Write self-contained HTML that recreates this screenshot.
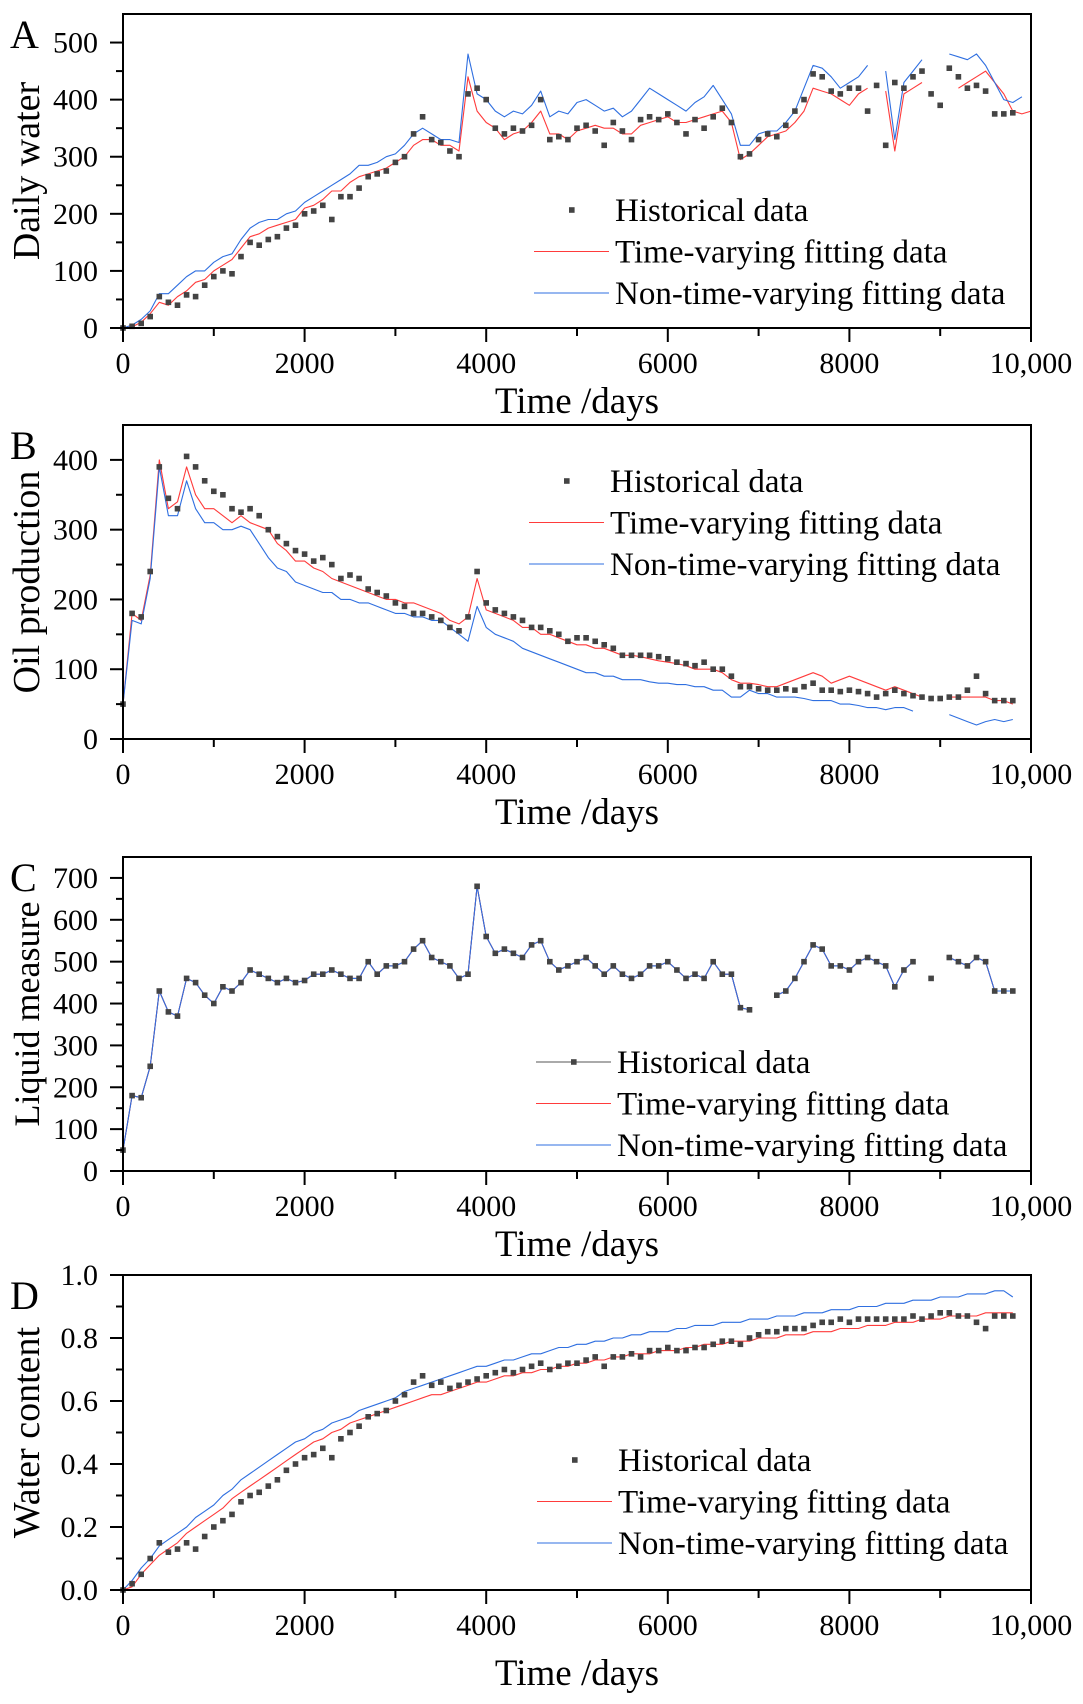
<!DOCTYPE html>
<html><head><meta charset="utf-8">
<style>
html,body{margin:0;padding:0;background:#fff;}
svg{display:block;}
text{font-family:"Liberation Serif",serif;fill:#000;}
</style></head>
<body>
<svg id="fig" width="1083" height="1704" viewBox="0 0 1083 1704" xmlns="http://www.w3.org/2000/svg"></svg>
<script>
// ---- data (days step 100) ----
const daysStep = 100;
const xTicks = [0, 2000, 4000, 6000, 8000, 10000];
const xTickLabels = ["0", "2000", "4000", "6000", "8000", "10,000"];

const waterHist = [0,3,8,20,55,45,40,58,55,75,90,100,95,125,150,145,155,160,175,180,200,205,215,190,230,230,245,265,270,275,290,300,340,370,330,325,310,300,410,420,400,350,340,350,345,355,400,330,335,330,350,355,345,320,360,345,330,365,370,365,375,360,340,365,350,370,385,360,300,305,330,340,335,355,380,400,445,440,415,410,420,420,380,425,320,430,420,440,450,410,390,455,440,420,425,415,375,375,377];
const waterRed = [0,2,10,25,45,40,55,65,80,85,100,110,120,140,160,165,175,180,185,190,210,215,225,240,240,255,265,270,275,280,290,300,320,330,330,320,320,310,440,380,360,350,330,340,345,360,380,340,340,330,345,350,355,350,350,340,340,355,360,365,370,360,360,365,370,375,380,360,295,305,320,335,340,345,360,380,420,415,410,400,390,410,420,null,415,310,410,420,430,null,null,null,420,430,440,450,430,410,380,375,380];
const waterBlue = [0,5,15,30,60,60,75,90,100,100,115,125,130,155,175,185,190,190,200,205,220,230,240,250,260,270,285,285,290,300,305,320,340,350,340,330,330,325,480,410,400,380,370,380,375,390,415,370,380,375,395,400,390,380,385,370,380,400,420,410,400,390,380,395,405,425,400,375,320,320,340,345,345,360,380,420,460,455,440,420,430,440,460,null,450,330,430,450,470,null,null,480,475,470,480,460,430,400,395,405];

const oilHist = [50,180,175,240,390,345,330,405,390,370,355,350,330,325,330,320,300,290,280,270,265,255,260,250,230,235,230,215,210,205,195,190,180,180,175,170,160,155,175,240,195,185,180,175,170,160,160,155,150,140,145,145,140,135,130,120,120,120,120,118,115,110,108,105,110,100,100,90,75,75,72,70,70,72,70,75,80,70,70,68,70,68,65,60,65,70,65,62,60,58,58,60,60,70,90,65,55,55,55];
const oilRed = [50,180,170,235,400,330,340,390,350,330,330,320,310,320,310,305,300,280,270,255,255,245,240,230,225,220,215,210,205,200,200,195,195,190,185,180,170,165,175,230,185,180,175,170,160,160,150,150,145,140,135,135,130,130,125,120,120,118,115,112,110,108,105,100,100,100,95,85,80,80,78,75,75,80,85,90,95,90,80,85,90,85,80,75,70,75,70,65,60,null,null,60,60,60,60,60,55,55,50];
const oilBlue = [50,170,165,230,390,320,320,370,330,310,310,300,300,305,300,280,260,245,240,225,220,215,210,210,200,200,195,195,190,185,180,180,175,175,170,170,160,150,140,190,160,150,145,140,130,125,120,115,110,105,100,95,95,90,90,85,85,85,82,80,80,78,78,75,75,70,70,60,60,70,65,65,60,60,60,58,55,55,55,50,50,48,45,45,42,45,45,40,null,null,null,35,30,25,20,25,28,25,28];

const liquidHist = [50,180,175,250,430,380,370,460,450,420,400,440,430,450,480,470,460,450,460,450,455,470,470,480,470,460,460,500,470,490,490,500,530,550,510,500,490,460,470,680,560,520,530,520,510,540,550,500,480,490,500,510,490,470,490,470,460,470,490,490,500,480,460,470,460,500,470,470,390,385,null,null,420,430,460,500,540,530,490,490,480,500,510,500,490,440,480,500,null,460,null,510,500,490,510,500,430,430,430];
const liquidRed = liquidHist;
const liquidBlue = liquidHist;

const wcHist = [0,0.02,0.05,0.1,0.15,0.12,0.13,0.15,0.13,0.17,0.2,0.22,0.24,0.28,0.3,0.31,0.33,0.35,0.38,0.4,0.42,0.43,0.45,0.42,0.48,0.5,0.52,0.55,0.56,0.57,0.6,0.62,0.66,0.68,0.65,0.66,0.64,0.65,0.66,0.67,0.68,0.69,0.7,0.69,0.7,0.71,0.72,0.7,0.71,0.72,0.72,0.73,0.74,0.71,0.74,0.74,0.75,0.74,0.76,0.76,0.77,0.76,0.76,0.77,0.77,0.78,0.79,0.79,0.78,0.8,0.81,0.82,0.82,0.83,0.83,0.83,0.84,0.85,0.85,0.86,0.85,0.86,0.86,0.86,0.86,0.86,0.86,0.87,0.86,0.87,0.88,0.88,0.87,0.87,0.85,0.83,0.87,0.87,0.87];
const wcRed = [0,0.01,0.05,0.08,0.11,0.13,0.15,0.18,0.2,0.22,0.24,0.26,0.29,0.31,0.33,0.35,0.37,0.39,0.41,0.43,0.45,0.47,0.48,0.5,0.51,0.53,0.54,0.55,0.56,0.57,0.58,0.59,0.6,0.61,0.62,0.62,0.63,0.64,0.65,0.66,0.66,0.67,0.68,0.68,0.69,0.69,0.7,0.7,0.71,0.71,0.72,0.72,0.73,0.73,0.74,0.74,0.75,0.75,0.75,0.76,0.76,0.76,0.77,0.77,0.78,0.78,0.78,0.79,0.79,0.79,0.8,0.8,0.8,0.81,0.81,0.81,0.82,0.82,0.82,0.83,0.83,0.83,0.84,0.84,0.84,0.85,0.85,0.85,0.86,0.86,0.86,0.87,0.87,0.87,0.87,0.88,0.88,0.88,0.88];
const wcBlue = [0,0.03,0.07,0.1,0.14,0.16,0.18,0.2,0.23,0.25,0.27,0.3,0.32,0.35,0.37,0.39,0.41,0.43,0.45,0.47,0.48,0.5,0.51,0.53,0.54,0.55,0.57,0.58,0.59,0.6,0.61,0.63,0.64,0.65,0.66,0.67,0.68,0.69,0.7,0.71,0.71,0.72,0.73,0.73,0.74,0.75,0.75,0.76,0.77,0.77,0.78,0.78,0.79,0.79,0.8,0.8,0.81,0.81,0.82,0.82,0.82,0.83,0.83,0.84,0.84,0.84,0.85,0.85,0.85,0.86,0.86,0.86,0.87,0.87,0.87,0.88,0.88,0.88,0.89,0.89,0.89,0.9,0.9,0.9,0.91,0.91,0.91,0.92,0.92,0.92,0.93,0.93,0.93,0.94,0.94,0.94,0.95,0.95,0.93];

const aTicks = [0,100,200,300,400,500];
const bTicks = [0,100,200,300,400];
const cTicks = [0,100,200,300,400,500,600,700];
const dTicks = [0,0.2,0.4,0.6,0.8,1.0];

const NS = "http://www.w3.org/2000/svg";
const svg = document.getElementById('fig');
function mk(tag, attrs, parent) {
  const e = document.createElementNS(NS, tag);
  for (const k in attrs) e.setAttribute(k, attrs[k]);
  (parent || svg).appendChild(e);
  return e;
}
const L = 123, R = 1031, XMAX = 10000;
function xScale(d) { return L + (d / XMAX) * (R - L); }

function panel(p) {
  const g = mk('g', {});
  
  
  const yScale = v => p.bottom - (v / p.ymax) * (p.bottom - p.top);
  function line(arr, color, name, w) {
    let d = '', pen = false;
    arr.forEach((v, i) => {
      if (v === null) { pen = false; return; }
      const x = xScale(i * daysStep), y = yScale(v);
      d += (pen ? 'L' : 'M') + x.toFixed(1) + ' ' + y.toFixed(1);
      pen = true;
    });
    const pth = mk('path', {d: d, fill: 'none', stroke: color, 'stroke-width': w || 1.1, 'stroke-linejoin': 'round'}, g);
    
    
  }
  if (p.histLine) line(p.hist, '#555', p.id + '-historical-line', 1);
  line(p.red, '#ff3b3b', p.id + '-time-varying-line');
  line(p.blue, '#2f6fe0', p.id + '-non-time-varying-line');
  const mg = mk('g', {fill: '#444'}, g);
  
  
  p.hist.forEach((v, i) => {
    if (v === null) return;
    const r = mk('rect', {x: (xScale(i * daysStep) - 2.8).toFixed(1), y: (yScale(v) - 2.8).toFixed(1), width: 5.6, height: 5.6}, mg);
    
    
  });
  const fr = mk('rect', {x: L, y: p.top, width: R - L, height: p.bottom - p.top, fill: 'none', stroke: '#000', 'stroke-width': 2}, g);
  
  
  p.ticks.forEach(t => {
    const y = yScale(t);
    mk('line', {x1: L - 13, x2: L, y1: y, y2: y, stroke: '#000', 'stroke-width': 2}, g);
    const tx = mk('text', {x: L - 25, y: y + 10, 'font-size': 30, 'text-anchor': 'end'}, g);
    tx.textContent = p.fmt(t);
    
    
  });
  for (let m = p.minor; m < p.ymax; m += p.minor * 2) {
    const y = yScale(m);
    mk('line', {x1: L - 7, x2: L, y1: y, y2: y, stroke: '#000', 'stroke-width': 2}, g);
  }
  xTicks.forEach((t, i) => {
    const x = xScale(t);
    mk('line', {x1: x, x2: x, y1: p.bottom, y2: p.bottom + 14, stroke: '#000', 'stroke-width': 2}, g);
    const tx = mk('text', {x: x, y: p.bottom + 45, 'font-size': 30, 'text-anchor': 'middle'}, g);
    tx.textContent = xTickLabels[i];
    
    
  });
  for (let m = 1000; m < XMAX; m += 2000) {
    const x = xScale(m);
    mk('line', {x1: x, x2: x, y1: p.bottom, y2: p.bottom + 8, stroke: '#000', 'stroke-width': 2}, g);
  }
  const xt = mk('text', {x: (L + R) / 2, y: p.bottom + p.titleOff, 'font-size': 37, 'text-anchor': 'middle'}, g);
  xt.textContent = 'Time /days';
  
  
  const cy = (p.top + p.bottom) / 2;
  const yt = mk('text', {x: 39, y: cy, 'font-size': p.ytSize, 'text-anchor': 'middle', transform: 'rotate(-90 39 ' + cy + ')'}, g);
  yt.textContent = p.ytitle;
  
  
  const lt = mk('text', {x: 10, y: p.top + 34, 'font-size': 40}, g);
  lt.textContent = p.letter;
  
  
  const lg = mk('g', {}, g);
  
  
  const names = ['Historical data', 'Time-varying fitting data', 'Non-time-varying fitting data'];
  const cols = ['#555', '#ff3b3b', '#2f6fe0'];
  names.forEach((n, i) => {
    const y = p.legY + i * 41.5;
    if (i > 0 || p.histLine) mk('line', {x1: p.legX, x2: p.legX + 75, y1: y, y2: y, stroke: cols[i], 'stroke-width': 1.1}, lg);
    if (i === 0) mk('rect', {x: p.legX + 35, y: y - 2.8, width: 5.6, height: 5.6, fill: '#444'}, lg);
    const t = mk('text', {x: p.legX + 81, y: y + 11, 'font-size': 33}, lg);
    t.textContent = n;
    
    
  });
}

panel({id: 'daily-water', letter: 'A', ytitle: 'Daily water', top: 14, bottom: 328, ymax: 550, ticks: aTicks, minor: 50,
  hist: waterHist, red: waterRed, blue: waterBlue, fmt: v => String(v), legX: 534, legY: 210, titleOff: 85, ytSize: 38});
panel({id: 'oil-production', letter: 'B', ytitle: 'Oil production', top: 425, bottom: 739, ymax: 450, ticks: bTicks, minor: 50,
  hist: oilHist, red: oilRed, blue: oilBlue, fmt: v => String(v), legX: 529, legY: 481, titleOff: 85, ytSize: 38});
panel({id: 'liquid-measure', letter: 'C', ytitle: 'Liquid measure', top: 857, bottom: 1171, ymax: 750, ticks: cTicks, minor: 50,
  hist: liquidHist, red: liquidRed, blue: liquidBlue, fmt: v => String(v), legX: 536, legY: 1062, histLine: true, titleOff: 85, ytSize: 36});
panel({id: 'water-content', letter: 'D', ytitle: 'Water content', top: 1275, bottom: 1590, ymax: 1.0, ticks: dTicks, minor: 0.1,
  hist: wcHist, red: wcRed, blue: wcBlue, fmt: v => v.toFixed(1), legX: 537, legY: 1460, titleOff: 95, ytSize: 38});
</script>
</body></html>
